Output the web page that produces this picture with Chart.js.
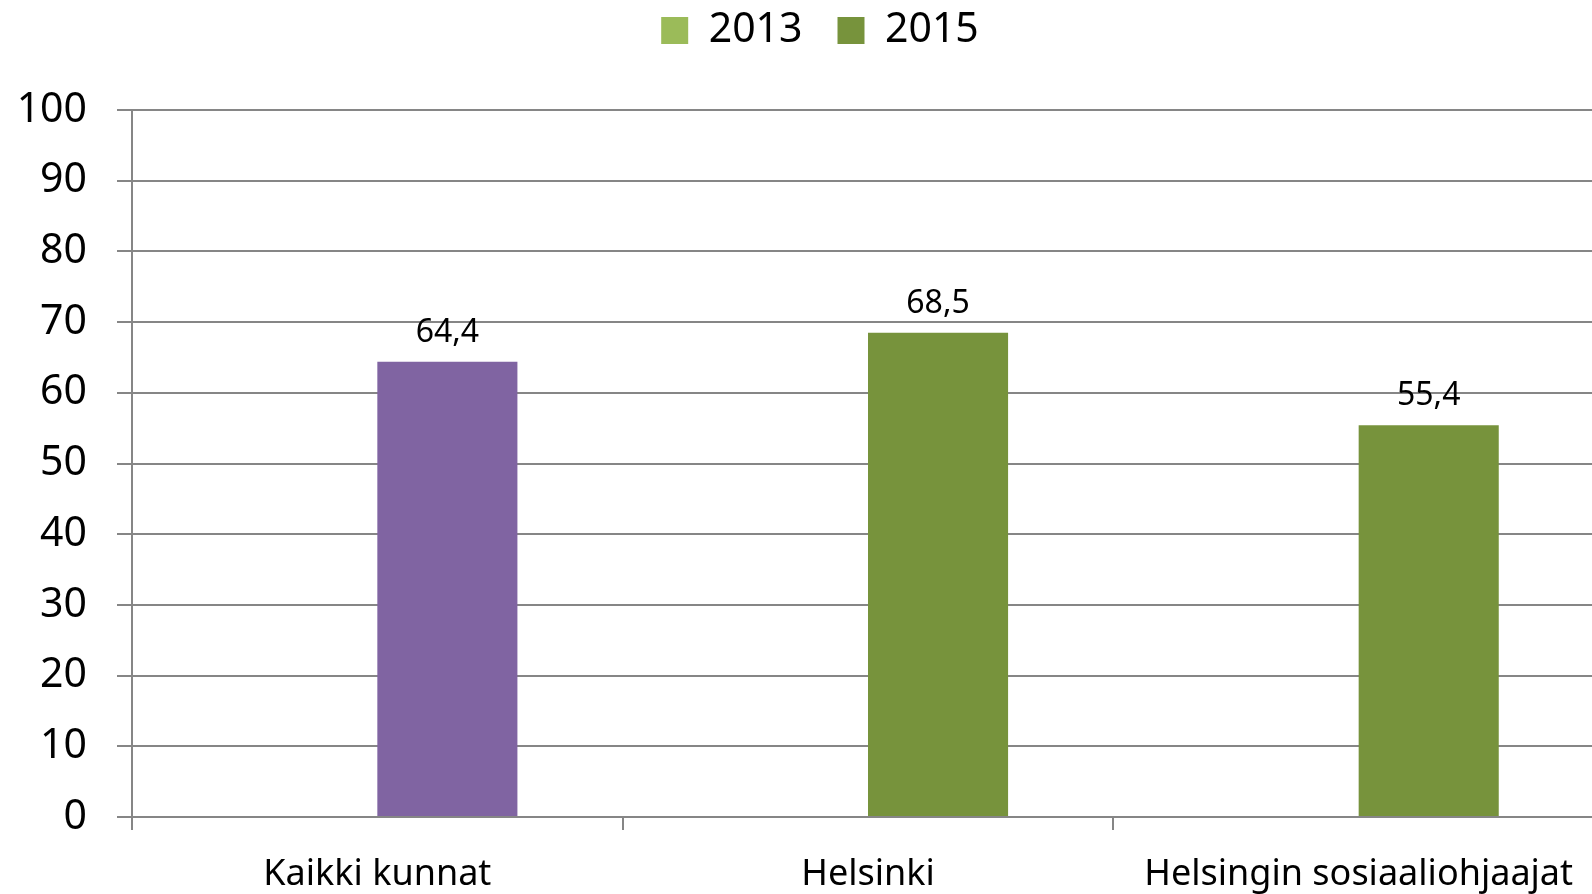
<!DOCTYPE html>
<html>
<head>
<meta charset="utf-8">
<script src="https://cdn.jsdelivr.net/npm/chart.js@4"></script>
<style>
  html, body { margin: 0; padding: 0; background: #fff; overflow: hidden; }
  #wrap { width: 1604px; height: 894px; }
</style>
</head>
<body>
<div id="wrap"><canvas id="barChart"></canvas></div>
<script>
const categories = ['Kaikki kunnat', 'Helsinki', 'Helsingin sosiaaliohjaajat'];
const seriesNames = ['2013', '2015'];
const values2013 = [null, null, null];
const values2015 = [64.4, 68.5, 55.4];
const yTicks = [0, 10, 20, 30, 40, 50, 60, 70, 80, 90, 100];

const legendColors = ['#9BBB59', '#77933C'];
const barColors2015 = ['#8064A2', '#77933C', '#77933C'];
const gridGray = '#868686';
const fontFamily = '"Noto Sans", "Open Sans", sans-serif';

// Value labels above the 2015 bars, Finnish decimal comma
const barLabels = {
  id: 'barLabels',
  afterDatasetsDraw(chart) {
    const ctx = chart.ctx;
    const meta = chart.getDatasetMeta(1);
    ctx.save();
    ctx.font = '32px ' + fontFamily;
    ctx.fillStyle = '#000';
    ctx.textAlign = 'center';
    ctx.textBaseline = 'alphabetic';
    meta.data.forEach((bar, i) => {
      const v = values2015[i];
      if (v == null) return;
      ctx.fillText(v.toFixed(1).replace('.', ','), bar.x, bar.y - 20);
    });
    ctx.restore();
  }
};

// Room under the legend, and nudge the legend into place
const legendGap = {
  id: 'legendGap',
  beforeInit(chart) {
    const fit = chart.legend.fit;
    chart.legend.fit = function () {
      fit.call(this);
      this.height += 24;
    };
  },
  afterLayout(chart) {
    const lg = chart.legend;
    lg.top -= 25;
    lg.bottom -= 25;
    lg.left += 18;
    lg.right += 18;
  }
};

new Chart(document.getElementById('barChart').getContext('2d'), {
  type: 'bar',
  data: {
    labels: categories,
    datasets: [
      { label: seriesNames[0], data: values2013, backgroundColor: legendColors[0], borderWidth: 0 },
      { label: seriesNames[1], data: values2015, backgroundColor: barColors2015, borderWidth: 0 }
    ]
  },
  options: {
    responsive: true,
    maintainAspectRatio: false,
    animation: false,
    categoryPercentage: 0.571,
    barPercentage: 1,
    layout: { padding: 0 },
    plugins: {
      tooltip: { enabled: false },
      legend: {
        position: 'top',
        labels: {
          color: '#000',
          font: { family: fontFamily, size: 41 },
          boxWidth: 27,
          boxHeight: 27,
          padding: 35,
          generateLabels(chart) {
            return Chart.defaults.plugins.legend.labels.generateLabels(chart).map((l, i) => {
              l.fillStyle = legendColors[i];
              l.strokeStyle = legendColors[i];
              l.lineWidth = 0;
              return l;
            });
          }
        }
      }
    },
    scales: {
      x: {
        grid: { drawOnChartArea: false, drawTicks: true, tickLength: 13, color: gridGray, lineWidth: 2, offset: true },
        border: { color: gridGray, width: 2 },
        ticks: { color: '#000', font: { family: fontFamily, size: 36 }, padding: 23, maxRotation: 0 },
        afterFit(scale) { scale.height = 77; }
      },
      y: {
        min: 0,
        max: 100,
        afterBuildTicks(scale) { scale.ticks = yTicks.map(v => ({ value: v })); },
        grid: { color: gridGray, lineWidth: 2, tickLength: 15 },
        border: { color: gridGray, width: 2 },
        ticks: { color: '#000', font: { family: fontFamily, size: 41 }, padding: 30 },
        afterFit(scale) { scale.width = 132; }
      }
    }
  },
  plugins: [barLabels, legendGap]
});
</script>
</body>
</html>
